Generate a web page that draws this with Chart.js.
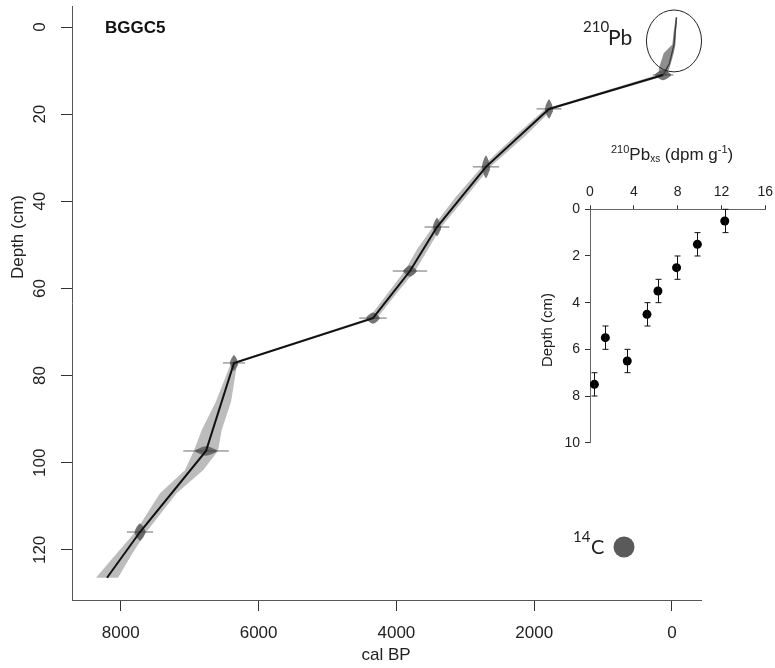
<!DOCTYPE html>
<html><head><meta charset="utf-8">
<script src="https://cdn.jsdelivr.net/npm/chart.js@4.4.0/dist/chart.umd.min.js"></script>
<style>
html,body{margin:0;padding:0;background:#fff;}
#wrap{position:relative;width:775px;height:668px;background:#fff;}
#wrap canvas{position:absolute;left:0;top:0;}
</style></head><body>
<div id="wrap"><canvas id="main" width="775" height="668"></canvas><canvas id="inset" width="775" height="668"></canvas></div>
<script>
// ---------------- DATA ----------------
// Age-depth model (cal BP vs depth in cm), 14C-controlled part
const modelAge   = [130, 1785, 2700, 3411, 3803, 4340, 6357, 6763, 7721, 8200];
const modelDepth = [11, 18.8, 32.1, 45.9, 56, 66.8, 77.1, 97.3, 115.9, 126.4];
// 210Pb-controlled top part of the model
const pbModelAge   = [-65, -30, 40, 130];
const pbModelDepth = [-2.2, 4, 8.5, 11];
// Uncertainty envelope (grey band) below the 210Pb section
const bandDepth = [11, 18.8, 25, 32.1, 39, 45.9, 51, 56, 61, 66.8, 77.1, 86, 92.5, 97.3, 101.7, 107, 115.9, 121, 126.4];
const bandMin   = [60, 1730, 2130, 2640, 2990, 3350, 3540, 3730, 3990, 4280, 6310, 6400, 6535, 6590, 6805, 7190, 7630, 7840, 8040];
const bandMax   = [220, 1840, 2280, 2760, 3140, 3470, 3700, 3880, 4120, 4400, 6400, 6620, 6825, 6940, 7070, 7430, 7790, 8070, 8360];
// Envelope of the 210Pb section
const pbBandDepth = [-2.2, 1, 4, 6, 8, 9.5, 11];
const pbBandMin   = [-75, -60, -50, -25, 10, 40, 70];
const pbBandMax   = [-55, -25, -5, 120, 160, 190, 200];
// Dated levels (calibrated ages, depth, error bar half-width, probability blob spread)
const dateAge   = [130, 1785, 2700, 3411, 3803, 4340, 6357, 6763, 7721];
const dateDepth = [11, 18.8, 32.1, 45.9, 56, 66.8, 77.1, 97.3, 115.9];
const dateErr   = [150, 180, 190, 180, 250, 200, 160, 330, 190];
const blobAge   = [120, 60, 60, 60, 100, 100, 60, 160, 80];
const blobDepth = [1.2, 2.2, 2.6, 2.1, 1.3, 1.3, 1.8, 1.1, 2.0];
// 210Pb highlight ellipse (data space)
const pbEllipse = {age: -29, depth: 3.2, rAge: 400, rDepth: 7.1};
// Main axis ticks
const xTicks = [0, 2000, 4000, 6000, 8000];
const yTicks = [0, 20, 40, 60, 80, 100, 120];

// Inset: 210Pb excess profile
const pbxs      = [12.3, 9.8, 7.9, 6.2, 5.2, 1.4, 3.4, 0.4];
const pbDepth   = [0.5, 1.5, 2.5, 3.5, 4.5, 5.5, 6.5, 7.5];
const pbDepthErr= [0.5, 0.5, 0.5, 0.5, 0.5, 0.5, 0.5, 0.5];
const insetXTicks = [0, 4, 8, 12, 16];
const insetYTicks = [0, 2, 4, 6, 8, 10];

// ---------------- MAIN CHART ----------------
const FONT = '"Liberation Sans", Arial, Helvetica, sans-serif';
const LFONT = 'Lato, "Liberation Sans", Arial, sans-serif';

function polygon(depths, mins, maxs) {
  const poly = [];
  depths.forEach((d, i) => poly.push({x: mins[i], y: d}));
  for (let i = depths.length - 1; i >= 0; i--) poly.push({x: maxs[i], y: depths[i]});
  poly.push({x: mins[0], y: depths[0]});
  return poly;
}

const datasets = [];
datasets.push({
  data: modelAge.map((a, i) => ({x: a, y: modelDepth[i]})),
  borderColor: '#111', borderWidth: 2, pointRadius: 0, fill: false, tension: 0, order: 0
});
datasets.push({
  data: pbModelAge.map((a, i) => ({x: a, y: pbModelDepth[i]})),
  borderColor: '#3a3a3a', borderWidth: 1.3, pointRadius: 0, fill: false, tension: 0, order: 0
});
dateAge.forEach((a, i) => {
  datasets.push({
    data: [{x: a - dateErr[i], y: dateDepth[i]}, {x: a + dateErr[i], y: dateDepth[i]}],
    borderColor: 'rgba(60,60,60,0.75)', borderWidth: 1, pointRadius: 0, fill: false, order: 1
  });
});
dateAge.forEach((a, i) => {
  const pts = [];
  const N = 24;
  for (let k = 0; k <= N; k++) {
    const t = k / N * 2 * Math.PI;
    const s = Math.sin(t), c = Math.cos(t);
    pts.push({x: a + blobAge[i] * Math.sign(s) * Math.pow(Math.abs(s), 1.5),
              y: dateDepth[i] - blobDepth[i] * Math.sign(c) * Math.pow(Math.abs(c), 1.5)});
  }
  datasets.push({
    data: pts, borderColor: 'transparent', borderWidth: 0, pointRadius: 0,
    backgroundColor: 'rgba(85,85,85,0.8)', fill: 'shape', tension: 0, order: 2
  });
});
datasets.push({
  data: polygon(pbBandDepth, pbBandMin, pbBandMax), borderColor: 'transparent', borderWidth: 0, pointRadius: 0,
  backgroundColor: '#8e8e8e', fill: 'shape', tension: 0, order: 3
});
datasets.push({
  data: polygon(bandDepth, bandMin, bandMax), borderColor: 'transparent', borderWidth: 0, pointRadius: 0,
  backgroundColor: '#bcbcbc', fill: 'shape', tension: 0, order: 3
});

const mainText = {
  id: 'mainText',
  afterDraw(chart) {
    const ctx = chart.ctx, xs = chart.scales.x, ys = chart.scales.y;
    ctx.save();
    ctx.fillStyle = '#222';
    // rotated y tick labels
    ctx.font = '17px ' + FONT;
    ctx.textAlign = 'center'; ctx.textBaseline = 'middle';
    yTicks.forEach(v => {
      const py = ys.getPixelForValue(v);
      ctx.save(); ctx.translate(40, py); ctx.rotate(-Math.PI / 2);
      ctx.fillText(String(v), 0, 0); ctx.restore();
    });
    // axis titles
    ctx.save(); ctx.translate(18, 237); ctx.rotate(-Math.PI / 2);
    ctx.font = '17px ' + FONT; ctx.fillText('Depth (cm)', 0, 0); ctx.restore();
    ctx.font = '17px ' + FONT;
    ctx.fillText('cal BP', 386, 655);
    // core name
    ctx.font = 'bold 17px ' + FONT; ctx.textAlign = 'left'; ctx.fillStyle = '#111';
    ctx.fillText('BGGC5', 105, 28);
    // 210Pb ellipse
    const cx = xs.getPixelForValue(pbEllipse.age), cy = ys.getPixelForValue(pbEllipse.depth);
    const rx = Math.abs(xs.getPixelForValue(pbEllipse.age + pbEllipse.rAge) - cx);
    const ry = Math.abs(ys.getPixelForValue(pbEllipse.depth + pbEllipse.rDepth) - cy);
    ctx.beginPath(); ctx.ellipse(cx, cy, rx, ry, 0, 0, 2 * Math.PI);
    ctx.strokeStyle = '#222'; ctx.lineWidth = 1; ctx.stroke();
    // 210Pb label
    ctx.fillStyle = '#222'; ctx.textBaseline = 'middle';
    ctx.font = '15px ' + LFONT; ctx.fillText('210', 583, 27);
    ctx.font = '21px ' + LFONT; ctx.fillText('Pb', 608, 38);
    // 14C legend
    ctx.font = '15px ' + LFONT; ctx.fillText('14', 573, 537);
    ctx.font = '20px ' + LFONT; ctx.fillText('C', 591, 548);
    ctx.beginPath(); ctx.arc(624, 547, 10.5, 0, 2 * Math.PI);
    ctx.fillStyle = '#5a5a5a'; ctx.fill();
    ctx.restore();
  }
};

new Chart(document.getElementById('main'), {
  type: 'line',
  data: {datasets},
  options: {
    responsive: false, animation: false, events: [],
    layout: {padding: {left: 0, top: 6, right: 74, bottom: 0}},
    plugins: {legend: {display: false}, tooltip: {enabled: false}},
    scales: {
      x: {
        type: 'linear', reverse: true, min: -421, max: 8708,
        afterBuildTicks: s => { s.ticks = xTicks.map(v => ({value: v})); },
        grid: {display: true, drawOnChartArea: false, drawTicks: true, tickLength: 11, color: '#333'},
        border: {display: true, color: '#555', width: 1},
        ticks: {font: {family: FONT, size: 17}, color: '#222', padding: 12, maxRotation: 0, minRotation: 0,
                callback: v => String(v)},
        afterFit: s => { s.height = 68; s.paddingLeft = 0; s.paddingRight = 0; }
      },
      y: {
        type: 'linear', reverse: true, min: -4.82, max: 131.5,
        afterBuildTicks: s => { s.ticks = yTicks.map(v => ({value: v})); },
        grid: {display: true, drawOnChartArea: false, drawTicks: true, tickLength: 11, color: '#333'},
        border: {display: true, color: '#555', width: 1},
        ticks: {display: false},
        afterFit: s => { s.width = 72; s.paddingTop = 0; s.paddingBottom = 0; }
      }
    }
  },
  plugins: [mainText]
});

// ---------------- INSET CHART ----------------
const insetText = {
  id: 'insetText',
  afterDatasetsDraw(chart) {
    const ctx = chart.ctx, xs = chart.scales.x, ys = chart.scales.y;
    ctx.save();
    ctx.strokeStyle = '#111'; ctx.lineWidth = 1;
    pbxs.forEach((v, i) => {
      const px = Math.round(xs.getPixelForValue(v)) + 0.5;
      const y1 = ys.getPixelForValue(pbDepth[i] - pbDepthErr[i]);
      const y2 = ys.getPixelForValue(pbDepth[i] + pbDepthErr[i]);
      ctx.beginPath();
      ctx.moveTo(px, y1); ctx.lineTo(px, y2);
      ctx.moveTo(px - 3, y1); ctx.lineTo(px + 3, y1);
      ctx.moveTo(px - 3, y2); ctx.lineTo(px + 3, y2);
      ctx.stroke();
    });
    ctx.restore();
  },
  afterDraw(chart) {
    const ctx = chart.ctx;
    ctx.save();
    ctx.fillStyle = '#222'; ctx.textBaseline = 'middle'; ctx.textAlign = 'left';
    // title: 210Pb_xs (dpm g^-1)
    let x = 611;
    const runs = [
      ['210', 11, -5], ['Pb', 17, 0], ['xs', 10, 4], [' (dpm g', 17, 0], ['-1', 11, -5], [')', 17, 0]
    ];
    runs.forEach(([t, sz, dy]) => {
      ctx.font = sz + 'px ' + FONT;
      ctx.fillText(t, x, 155 + dy);
      x += ctx.measureText(t).width;
    });
    // y axis title
    ctx.save(); ctx.translate(548, 330); ctx.rotate(-Math.PI / 2);
    ctx.textAlign = 'center'; ctx.font = '15px ' + FONT;
    ctx.fillText('Depth (cm)', 0, 0); ctx.restore();
    ctx.restore();
  }
};

new Chart(document.getElementById('inset'), {
  type: 'scatter',
  data: {datasets: [{
    data: pbxs.map((v, i) => ({x: v, y: pbDepth[i]})),
    pointRadius: 4.5, pointBackgroundColor: '#000', pointBorderColor: '#000', pointBorderWidth: 0
  }]},
  options: {
    responsive: false, animation: false, events: [],
    layout: {padding: {left: 540, top: 150, right: 9.7, bottom: 225.3}},
    plugins: {legend: {display: false}, tooltip: {enabled: false}},
    scales: {
      x: {
        type: 'linear', position: 'top', min: 0, max: 16,
        afterBuildTicks: s => { s.ticks = insetXTicks.map(v => ({value: v})); },
        grid: {display: true, drawOnChartArea: false, drawTicks: true, tickLength: 4, color: '#333'},
        border: {display: true, color: '#666', width: 1},
        ticks: {font: {family: FONT, size: 14}, color: '#222', padding: 5, maxRotation: 0, minRotation: 0},
        afterFit: s => { s.height = 59.3; s.paddingLeft = 0; s.paddingRight = 0; }
      },
      y: {
        type: 'linear', reverse: true, min: 0, max: 10,
        afterBuildTicks: s => { s.ticks = insetYTicks.map(v => ({value: v})); },
        grid: {display: true, drawOnChartArea: false, drawTicks: true, tickLength: 5, color: '#333'},
        border: {display: true, color: '#666', width: 1},
        ticks: {font: {family: FONT, size: 14}, color: '#222', padding: 5},
        afterFit: s => { s.width = 50; s.paddingTop = 0; s.paddingBottom = 0; }
      }
    }
  },
  plugins: [insetText]
});
</script>
</body></html>
